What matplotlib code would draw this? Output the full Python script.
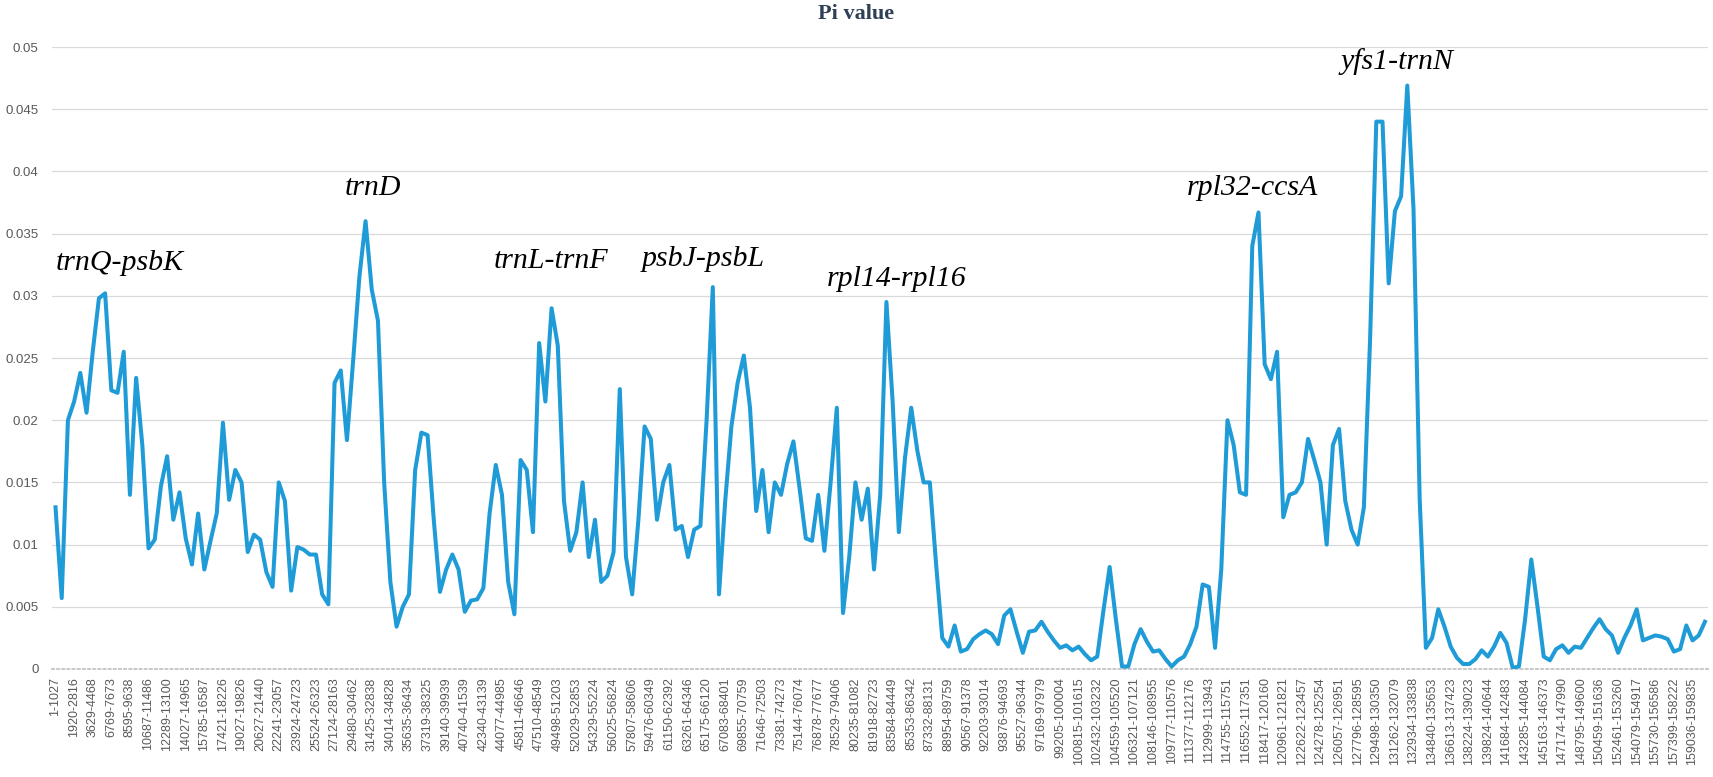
import numpy as np
import matplotlib
matplotlib.use('Agg')
import matplotlib.pyplot as plt

# sliding-window labels shown on the x axis (one every 3 plotted windows)
window_labels = [
    "1-1027", "1920-2816", "3629-4468", "6769-7673", "8595-9638",
    "10687-11486", "12289-13100", "14027-14965", "15785-16587", "17421-18226",
    "19027-19826", "20627-21440", "22241-23057", "23924-24723", "25524-26323",
    "27124-28163", "29480-30462", "31425-32838", "34014-34828", "35635-36434",
    "37319-38325", "39140-39939", "40740-41539", "42340-43139", "44077-44985",
    "45811-46646", "47510-48549", "49498-51203", "52029-52853", "54329-55224",
    "56025-56824", "57807-58606", "59476-60349", "61150-62392", "63261-64346",
    "65175-66120", "67083-68401", "69855-70759", "71646-72503", "73381-74273",
    "75144-76074", "76878-77677", "78529-79406", "80235-81082", "81918-82723",
    "83584-84449", "85353-86342", "87332-88131", "88954-89759", "90567-91378",
    "92203-93014", "93876-94693", "95527-96344", "97169-97979", "99205-100004",
    "100815-101615", "102432-103232", "104559-105520", "106321-107121", "108146-108955",
    "109777-110576", "111377-112176", "112999-113943", "114755-115751", "116552-117351",
    "118417-120160", "120961-121821", "122622-123457", "124278-125254", "126057-126951",
    "127796-128595", "129498-130350", "131262-132079", "132934-133838", "134840-135653",
    "136613-137423", "138224-139023", "139824-140644", "141684-142483", "143285-144084",
    "145163-146373", "147174-147990", "148795-149600", "150459-151636", "152461-153260",
    "154079-154917", "155730-156586", "157399-158222", "159036-159835",
]
points_per_label = 3

# nucleotide diversity (Pi) per window
pi_values = [
    0.0130, 0.0057, 0.0200, 0.0215, 0.0238, 0.0206, 0.0255, 0.0298, 0.0302, 0.0224,
    0.0222, 0.0255, 0.0140, 0.0234, 0.0180, 0.0097, 0.0104, 0.0147, 0.0171, 0.0120,
    0.0142, 0.0105, 0.0084, 0.0125, 0.0080, 0.0103, 0.0125, 0.0198, 0.0136, 0.0160,
    0.0150, 0.0094, 0.0108, 0.0104, 0.0078, 0.0066, 0.0150, 0.0135, 0.0063, 0.0098,
    0.0096, 0.0092, 0.0092, 0.0060, 0.0052, 0.0230, 0.0240, 0.0184, 0.0248, 0.0315,
    0.0360, 0.0305, 0.0280, 0.0150, 0.0070, 0.0034, 0.0050, 0.0060, 0.0160, 0.0190,
    0.0188, 0.0120, 0.0062, 0.0080, 0.0092, 0.0080, 0.0046, 0.0055, 0.0056, 0.0065,
    0.0125, 0.0164, 0.0140, 0.0070, 0.0044, 0.0168, 0.0160, 0.0110, 0.0262, 0.0215,
    0.0290, 0.0260, 0.0135, 0.0095, 0.0110, 0.0150, 0.0090, 0.0120, 0.0070, 0.0075,
    0.0094, 0.0225, 0.0090, 0.0060, 0.0120, 0.0195, 0.0185, 0.0120, 0.0150, 0.0164,
    0.0112, 0.0115, 0.0090, 0.0112, 0.0115, 0.0200, 0.0307, 0.0060, 0.0135, 0.0195,
    0.0230, 0.0252, 0.0210, 0.0127, 0.0160, 0.0110, 0.0150, 0.0140, 0.0165, 0.0183,
    0.0145, 0.0105, 0.0103, 0.0140, 0.0095, 0.0150, 0.0210, 0.0045, 0.0090, 0.0150,
    0.0120, 0.0145, 0.0080, 0.0140, 0.0295, 0.0215, 0.0110, 0.0170, 0.0210, 0.0175,
    0.0150, 0.0150, 0.0085, 0.0025, 0.0018, 0.0035, 0.0014, 0.0016, 0.0024, 0.0028,
    0.0031, 0.0028, 0.0020, 0.0043, 0.0048, 0.0030, 0.0013, 0.0030, 0.0031, 0.0038,
    0.0030, 0.0023, 0.0017, 0.0019, 0.0015, 0.0018, 0.0012, 0.0007, 0.0010, 0.0047,
    0.0082, 0.0040, 0.0002, 0.0002, 0.0020, 0.0032, 0.0022, 0.0014, 0.0015, 0.0008,
    0.0002, 0.0007, 0.0010, 0.0020, 0.0034, 0.0068, 0.0066, 0.0017, 0.0080, 0.0200,
    0.0180, 0.0142, 0.0140, 0.0340, 0.0367, 0.0245, 0.0233, 0.0255, 0.0122, 0.0140,
    0.0142, 0.0150, 0.0185, 0.0168, 0.0150, 0.0100, 0.0180, 0.0193, 0.0135, 0.0112,
    0.0100, 0.0130, 0.0265, 0.0440, 0.0440, 0.0310, 0.0368, 0.0380, 0.0469, 0.0370,
    0.0136, 0.0017, 0.0025, 0.0048, 0.0034, 0.0018, 0.0009, 0.0004, 0.0004, 0.0008,
    0.0015, 0.0010, 0.0018, 0.0029, 0.0021, 0.0001, 0.0002, 0.0040, 0.0088, 0.0050,
    0.0010, 0.0007, 0.0016, 0.0019, 0.0013, 0.0018, 0.0017, 0.0025, 0.0033, 0.0040,
    0.0032, 0.0027, 0.0013, 0.0025, 0.0035, 0.0048, 0.0023, 0.0025, 0.0027, 0.0026,
    0.0024, 0.0014, 0.0016, 0.0035, 0.0023, 0.0027, 0.0038,
]

# highly variable regions marked on the chart
region_names = ["trnQ-psbK", "trnD", "trnL-trnF", "psbJ-psbL",
                "rpl14-rpl16", "rpl32-ccsA", "yfs1-trnN"]
# text anchors (window index, Pi) for the region names
region_pos = [(0.0, 0.0321), (46.7, 0.0381), (70.6, 0.0322), (94.6, 0.0324),
              (124.4, 0.0308), (182.5, 0.0381), (207.2, 0.0482)]

fig = plt.figure(figsize=(17.13, 7.77), dpi=100)
ax = fig.add_axes([0.0306, 0.139, 0.9665, 0.8005])

x = np.arange(len(pi_values))
ax.plot(x, pi_values, color='#1f9bd7', lw=2.9, solid_joinstyle='round', zorder=3)

ax.set_xlim(-0.5, len(pi_values) - 0.5)
ax.set_ylim(0, 0.05)

yt = np.arange(0, 0.0501, 0.005)
ax.set_yticks(yt)
ax.set_yticklabels([f'{v:.3f}'.rstrip('0').rstrip('.') for v in yt],
                   family='Liberation Sans', fontsize=9.5, color='#595959')
ax.set_xticks(np.arange(len(window_labels)) * points_per_label)
ax.set_xticklabels(window_labels, rotation=90, family='Liberation Sans',
                   fontsize=9, color='#595959')
ax.tick_params(axis='both', length=0)
ax.tick_params(axis='y', pad=10)
ax.tick_params(axis='x', pad=6)

ax.yaxis.grid(True, color='#d9d9d9', lw=0.9)
ax.set_axisbelow(True)
for side in ['top', 'right', 'left']:
    ax.spines[side].set_visible(False)
ax.spines['bottom'].set_color('#c8c8c8')
ax.spines['bottom'].set_linewidth(1.4)
ax.spines['bottom'].set_linestyle(':')

for name, (px, py) in zip(region_names, region_pos):
    ax.text(px, py, name, ha='left', va='baseline', style='italic',
            family='Liberation Serif', fontsize=21.5, color='black')

fig.text(0.5, 0.982, 'Pi value', ha='center', va='center', fontweight='bold',
         family='Liberation Serif', fontsize=16, color='#2f3f55')

fig.savefig('out.png', dpi=100)
